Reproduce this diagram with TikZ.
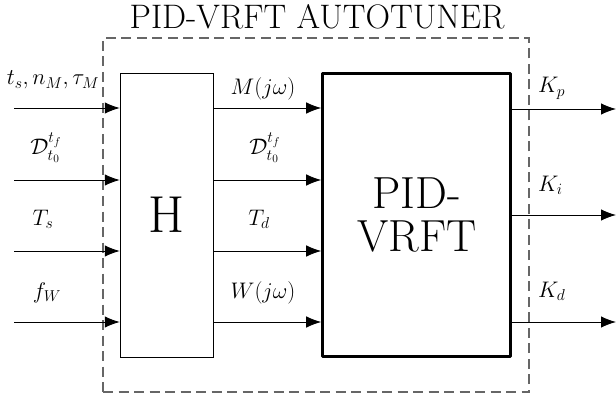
\RequirePackage{fix-cm}
\documentclass[tikz,border=0pt]{standalone}
\usepackage{amsmath}
\usepackage{fontspec}
\usetikzlibrary{arrows.meta}
\begin{document}
\begin{tikzpicture}[x=1pt,y=-1pt,
  arr/.style={line width=0.9pt,-{Latex[length=15pt,width=11.5pt]}},
  lbl/.style={inner sep=0pt,anchor=base,font=\fontsize{22.5}{27}\selectfont},
  klbl/.style={inner sep=0pt,anchor=base west,font=\fontsize{22.5}{27}\selectfont},
  frame/.style={draw=black!60,line width=1.1pt,dash pattern=on 10pt off 5.5pt,minimum width=426pt,minimum height=354pt,inner sep=0pt},
  hbox/.style={draw,line width=0.9pt,minimum width=93pt,minimum height=284pt,inner sep=0pt,font=\fontsize{52}{60}\selectfont},
  pbox/.style={draw,line width=3pt,line join=round,minimum width=188pt,minimum height=283.5pt,inner sep=0pt,align=center,font=\fontsize{45}{43}\selectfont}
]
\useasboundingbox (0,0) rectangle (616,401);
\node[frame] (fr) at (316,215) {};
\node[inner sep=0pt,anchor=base,font=\fontsize{34}{40}\selectfont] (title) at (317,29) {PID-VRFT AUTOTUNER};
\node[hbox] (h) at (166.7,215) {H};
\node[pbox] (p) at (416.7,215) {PID-\\VRFT};
% inputs
\coordinate (i1) at (14,108);
\coordinate (i2) at (14,180);
\coordinate (i3) at (14,251);
\coordinate (i4) at (14,322);
\foreach \i in {1,2,3,4}{
  \draw[arr] (i\i) -- (i\i -| h.west);
  \draw[arr] (i\i -| h.east) -- (i\i -| p.west);
}
% outputs
\coordinate (o1) at (616,109);
\coordinate (o2) at (616,215);
\coordinate (o3) at (616,322);
\foreach \i in {1,2,3}{
  \draw[arr] (o\i -| p.east) -- (o\i);
}
% labels left
\node[lbl] (l1) at (53,85) {$t_s,n_M,\tau_M$};
\node[lbl] (l2) at (46,155) {$\mathcal{D}_{t_0}^{t_f}$};
\node[lbl] (l3) at (43,225) {$T_s$};
\node[lbl] (l4) at (47,298) {$f_W$};
% labels middle
\node[lbl] (m1) at (263,95) {$M(j\omega)$};
\node[lbl] (m2) at (265,155) {$\mathcal{D}_{t_0}^{t_f}$};
\node[lbl] (m3) at (259,225) {$T_d$};
\node[lbl] (m4) at (263,298) {$W(j\omega)$};
% labels right
\node[klbl] (k1) at (538,93) {$K_p$};
\node[klbl] (k2) at (538,191) {$K_i$};
\node[klbl] (k3) at (538,297) {$K_d$};
\end{tikzpicture}
\end{document}
